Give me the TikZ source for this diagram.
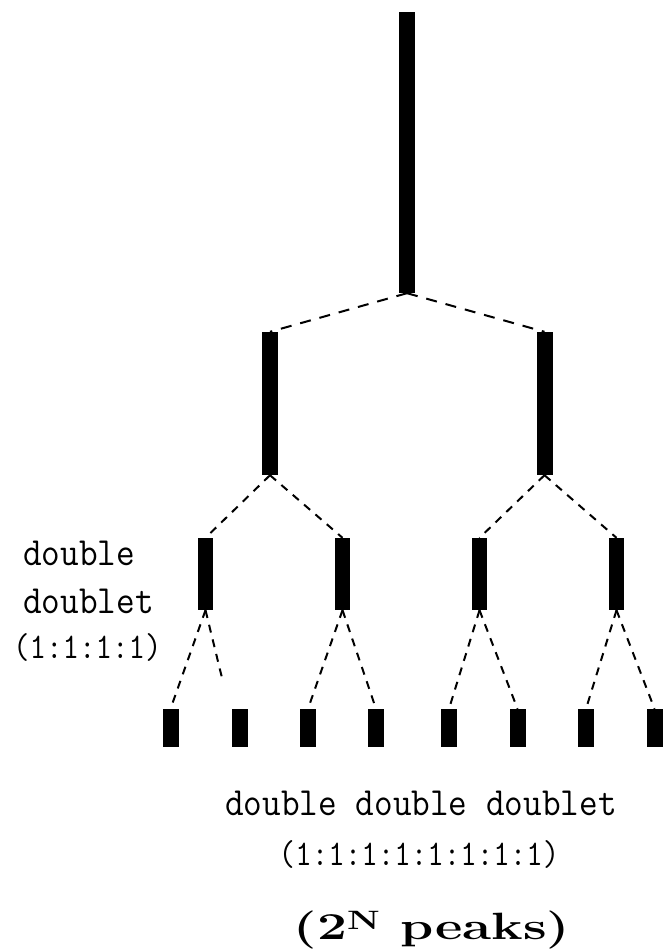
\documentclass[tikz,border=0pt]{standalone}
\begin{document}
\begin{tikzpicture}[x=1pt,y=-1pt,
  bar/.style={fill=black,draw=none,inner sep=0pt,rectangle},
  dl/.style={line width=2pt,dash pattern=on 11pt off 9pt},
  ds/.style={line width=2pt,dash pattern=on 8pt off 7pt},
  lbl/.style={inner sep=0pt}]
\newcommand{\wtxt}[1]{\scalebox{0.905}[1]{\ttfamily\fontsize{40}{44}\selectfont #1}}
\newcommand{\rtxt}[1]{\scalebox{0.89}[1]{\ttfamily\fontsize{36}{40}\selectfont #1}}
\useasboundingbox (0,0) rectangle (662,949);
% bars
\node[bar,minimum width=16pt,minimum height=281pt] (t) at (407,152.5) {};
\node[bar,minimum width=16pt,minimum height=143pt] (a) at (270,403.5) {};
\node[bar,minimum width=16pt,minimum height=143pt] (b) at (544.5,403.5) {};
\foreach \n/\x in {c1/205.5,c2/342.5,c3/479.5,c4/616.5}
  \node[bar,minimum width=15pt,minimum height=72pt] (\n) at (\x,574) {};
\foreach \n/\x in {d1/170.5,d2/239.5,d3/308,d4/376,d5/449,d6/517.5,d7/586,d8/654.5}
  \node[bar,minimum width=16pt,minimum height=38pt] (\n) at (\x,728) {};
% connectors
\draw[dl] (t.south) -- (a.north);
\draw[dl] (t.south) -- (b.north);
\draw[ds] (a.south) -- (c1.north);
\draw[ds] (a.south) -- (c2.north);
\draw[ds] (b.south) -- (c3.north);
\draw[ds] (b.south) -- (c4.north);
\coordinate (e) at (223,682);
\draw[ds] (c1.south) -- (d1.north);
\draw[ds] (c1.south) -- (e);
\draw[ds] (c2.south) -- (d3.north);
\draw[ds] (c2.south) -- (d4.north);
\draw[ds] (c3.south) -- (d5.north);
\draw[ds] (c3.south) -- (d6.north);
\draw[ds] (c4.south) -- (d7.north);
\draw[ds] (c4.south) -- (d8.north);
% labels
\node[lbl,anchor=base west] (l1) at (23,565) {\wtxt{double}};
\node[lbl,anchor=base west] (l2) at (23,613) {\wtxt{doublet}};
\node[lbl,anchor=base west] (l3) at (13,658) {\rtxt{(1:1:1:1)}};
\node[lbl,anchor=base] (m1) at (421,815) {\wtxt{double double doublet}};
\node[lbl,anchor=base] (m2) at (419,865) {\rtxt{(1:1:1:1:1:1:1:1)}};
\node[lbl,anchor=base] (m3) at (432,939) {\scalebox{1.4}[1]{\fontsize{38}{42}\selectfont\bfseries (2\textsuperscript{N} peaks)}};
\end{tikzpicture}
\end{document}
